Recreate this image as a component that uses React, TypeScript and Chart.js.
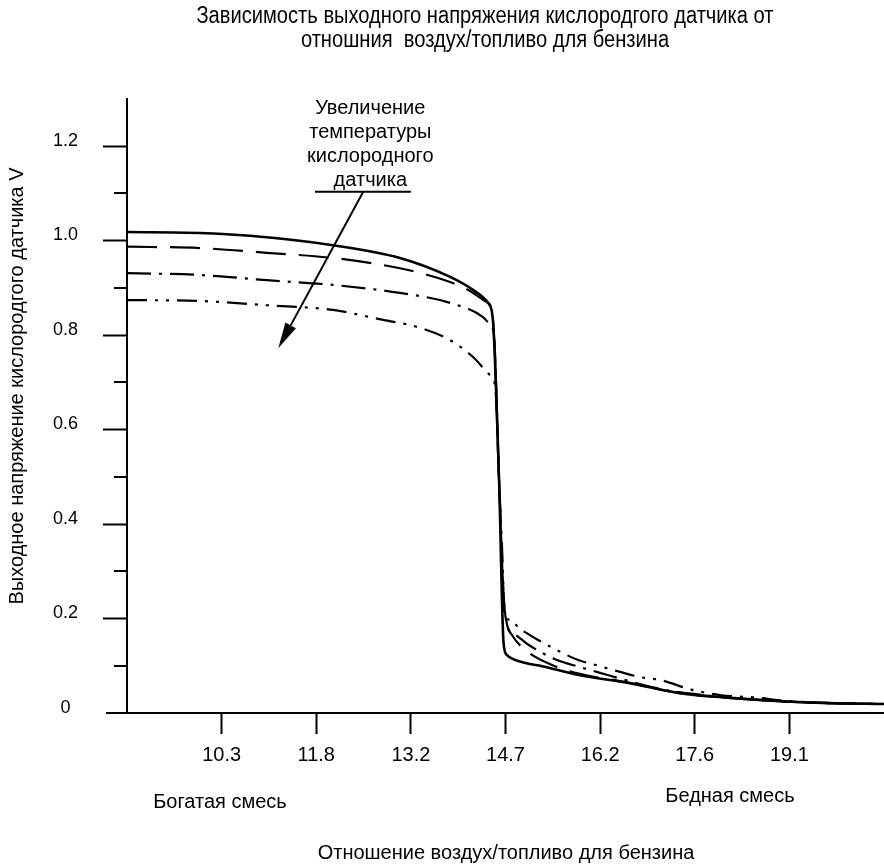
import React, { useEffect, useRef } from 'react';
import { Chart, registerables } from 'chart.js';

Chart.register(...registerables);

// ---- texts ----
const TITLE_LINES = [
  'Зависимость выходного напряжения кислородгого датчика от',
  'отношния  воздух/топливо для бензина',
];
const Y_TITLE = 'Выходное напряжение кислородгого датчика V';
const X_TITLE = 'Отношение воздух/топливо для бензина';
const RICH_LABEL = 'Богатая смесь';
const LEAN_LABEL = 'Бедная смесь';
const NOTE_LINES = ['Увеличение', 'температуры', 'кислородного', 'датчика'];

// ---- axes ----
const STOICH = 14.7;
const LAMBDA_MIN = 0.6;
const LAMBDA_MAX = 1.4;
const LAMBDA_TICKS = [0.7, 0.8, 0.9, 1.0, 1.1, 1.2, 1.3];
const Y_MIN = 0;
const Y_MAX = 1.3;
const Y_STEP = 0.1;

// ---- series (air/fuel ratio, volts) ----
const solidX = [8.82, 9.95, 10.73, 12.02, 13.06, 13.84, 14.2, 14.43, 14.5, 14.6, 14.67, 14.72, 14.82, 15.34, 15.86, 16.63, 17.41, 18.19, 18.96, 19.74, 20.58];
const solidY = [1.018, 1.016, 1.01, 0.99, 0.963, 0.923, 0.895, 0.868, 0.838, 0.493, 0.148, 0.123, 0.114, 0.097, 0.08, 0.063, 0.042, 0.032, 0.025, 0.021, 0.019];

const dashX = [8.82, 9.95, 10.99, 12.02, 12.8, 13.33, 13.84, 14.15, 14.38, 14.5, 14.6, 14.67, 14.72, 14.8, 15.05, 15.47, 15.7, 16.01, 16.37, 16.63, 17.41, 18.19, 18.96, 19.74, 20.58];
const dashY = [0.987, 0.984, 0.974, 0.963, 0.948, 0.933, 0.912, 0.893, 0.872, 0.838, 0.493, 0.25, 0.19, 0.165, 0.129, 0.099, 0.088, 0.078, 0.07, 0.064, 0.042, 0.032, 0.025, 0.021, 0.019];

const dashDotX = [8.82, 9.95, 10.99, 12.02, 13.06, 13.84, 14.35, 14.46, 14.52, 14.6, 14.67, 14.74, 14.82, 15.05, 15.47, 15.86, 16.17, 16.53, 16.94, 17.36, 17.72, 18.19, 18.96, 19.74, 20.58];
const dashDotY = [0.931, 0.927, 0.916, 0.906, 0.889, 0.868, 0.838, 0.822, 0.8, 0.493, 0.25, 0.18, 0.169, 0.145, 0.114, 0.097, 0.085, 0.071, 0.056, 0.045, 0.039, 0.032, 0.025, 0.021, 0.019];

const dashDotDotX = [8.82, 9.95, 10.99, 12.02, 12.8, 13.33, 13.84, 14.2, 14.46, 14.54, 14.6, 14.66, 14.68, 14.8, 14.89, 15.03, 15.2, 15.5, 15.83, 16.09, 16.48, 16.79, 17.1, 17.6, 18.03, 18.65, 18.96, 19.74, 20.58];
const dashDotDotY = [0.874, 0.872, 0.863, 0.853, 0.832, 0.817, 0.789, 0.753, 0.715, 0.69, 0.493, 0.3, 0.203, 0.197, 0.182, 0.169, 0.155, 0.133, 0.112, 0.102, 0.087, 0.076, 0.07, 0.049, 0.038, 0.032, 0.027, 0.021, 0.019];

// ---- annotation anchor (data coordinates) ----
const NOTE_CENTER_X = 12.6;
const NOTE_LINE_Y = [1.279, 1.228, 1.177, 1.126];
const NOTE_RULE_X = [11.74, 13.23];
const NOTE_RULE_Y = 1.103;
const ARROW_FROM = [12.49, 1.103];
const ARROW_TO = [11.17, 0.772];

const REGULAR = '"Liberation Sans", Arial, sans-serif';

const toPoints = (xs: number[], ys: number[]) => xs.map((x, i) => ({ x, y: ys[i] }));

const decorPlugin = {
  id: 'decor',
  afterDraw(chart: any) {
    const { ctx, chartArea } = chart;
    const x = chart.scales.x;
    const y = chart.scales.y;
    ctx.save();
    ctx.fillStyle = '#000';
    ctx.strokeStyle = '#000';
    ctx.lineCap = 'butt';

    // minor y ticks
    ctx.lineWidth = 2;
    ctx.beginPath();
    for (let k = 1; k <= 11; k += 2) {
      const py = Math.round(y.getPixelForValue(k / 10));
      ctx.moveTo(chartArea.left - 13, py);
      ctx.lineTo(chartArea.left, py);
    }
    // x-axis extension to the left
    const p0 = Math.round(y.getPixelForValue(0));
    ctx.moveTo(chartArea.left - 21, p0);
    ctx.lineTo(chartArea.left, p0);
    ctx.stroke();

    ctx.textAlign = 'center';
    ctx.textBaseline = 'middle';

    // title (condensed look)
    ctx.save();
    ctx.font = `23px ${REGULAR}`;
    ctx.translate(485, 0);
    ctx.scale(0.875, 1);
    ctx.fillText(TITLE_LINES[0], 0, 17);
    ctx.fillText(TITLE_LINES[1], 0, 41);
    ctx.restore();

    ctx.font = `20px ${REGULAR}`;
    ctx.fillText(X_TITLE, 506, 853);
    ctx.fillText(RICH_LABEL, 220, 802);
    ctx.fillText(LEAN_LABEL, 730, 796);

    ctx.save();
    ctx.translate(17, 386);
    ctx.rotate(-Math.PI / 2);
    ctx.fillText(Y_TITLE, 0, 0);
    ctx.restore();

    // annotation
    const cx = x.getPixelForValue(NOTE_CENTER_X);
    NOTE_LINES.forEach((t, i) => ctx.fillText(t, cx, y.getPixelForValue(NOTE_LINE_Y[i])));
    const ry = y.getPixelForValue(NOTE_RULE_Y);
    ctx.lineWidth = 2;
    ctx.beginPath();
    ctx.moveTo(x.getPixelForValue(NOTE_RULE_X[0]), ry);
    ctx.lineTo(x.getPixelForValue(NOTE_RULE_X[1]), ry);
    ctx.stroke();

    const ax0 = x.getPixelForValue(ARROW_FROM[0]);
    const ay0 = y.getPixelForValue(ARROW_FROM[1]);
    const ax1 = x.getPixelForValue(ARROW_TO[0]);
    const ay1 = y.getPixelForValue(ARROW_TO[1]);
    const ang = Math.atan2(ay1 - ay0, ax1 - ax0);
    const headLen = 26;
    const headHalf = 6;
    const bx = ax1 - headLen * Math.cos(ang);
    const by = ay1 - headLen * Math.sin(ang);
    ctx.beginPath();
    ctx.moveTo(ax0, ay0);
    ctx.lineTo(bx, by);
    ctx.stroke();
    ctx.beginPath();
    ctx.moveTo(ax1, ay1);
    ctx.lineTo(bx + headHalf * Math.sin(ang), by - headHalf * Math.cos(ang));
    ctx.lineTo(bx - headHalf * Math.sin(ang), by + headHalf * Math.cos(ang));
    ctx.closePath();
    ctx.fill();

    ctx.restore();
  },
};

export default function App() {
  const canvasRef = useRef<HTMLCanvasElement | null>(null);

  useEffect(() => {
    const canvas = canvasRef.current;
    if (!canvas) return;
    const common = {
      borderColor: '#000',
      backgroundColor: '#000',
      pointRadius: 0,
      fill: false,
      cubicInterpolationMode: 'monotone' as const,
    };
    const chart = new Chart(canvas, {
      type: 'line',
      data: {
        datasets: [
          { ...common, label: 'solid', data: toPoints(solidX, solidY), borderWidth: 2.6 },
          { ...common, label: 'dash', data: toPoints(dashX, dashY), borderWidth: 2.2, borderDash: [30, 13] },
          { ...common, label: 'dashdot', data: toPoints(dashDotX, dashDotY), borderWidth: 2.2, borderDash: [24, 8, 3, 8] },
          { ...common, label: 'dashdotdot', data: toPoints(dashDotDotX, dashDotDotY), borderWidth: 2.2, borderDash: [20, 8, 3, 8, 3, 8] },
        ],
      },
      options: {
        responsive: false,
        animation: false,
        events: [],
        layout: { padding: { left: 0, right: 0, top: 98.75, bottom: 0 } },
        plugins: {
          legend: { display: false },
          title: { display: false },
          tooltip: { enabled: false },
        },
        scales: {
          x: {
            type: 'linear',
            min: STOICH * LAMBDA_MIN,
            max: STOICH * LAMBDA_MAX,
            afterBuildTicks: (s: any) => {
              s.ticks = LAMBDA_TICKS.map((l) => ({ value: STOICH * l }));
            },
            afterFit: (s: any) => {
              s.height = 153;
            },
            grid: {
              display: true,
              drawOnChartArea: false,
              drawTicks: true,
              tickLength: 21,
              tickWidth: 2,
              tickColor: '#000',
              color: '#000',
            },
            border: { display: true, color: '#000', width: 2 },
            ticks: {
              autoSkip: false,
              maxRotation: 0,
              color: '#000',
              padding: 9,
              font: { family: REGULAR, size: 20 },
              callback: (v: any) => Number(v).toFixed(1),
            },
          },
          y: {
            type: 'linear',
            min: Y_MIN,
            max: Y_MAX,
            afterFit: (s: any) => {
              s.width = 127;
            },
            grid: {
              display: true,
              drawOnChartArea: false,
              drawTicks: true,
              tickLength: 24,
              tickWidth: 2,
              color: '#000',
              tickColor: (c: any) => {
                const k = Math.round(c.tick.value * 10);
                return k % 2 === 0 && k > 0 ? '#000' : 'rgba(0,0,0,0)';
              },
            },
            border: { display: true, color: '#000', width: 2 },
            ticks: {
              stepSize: Y_STEP,
              autoSkip: false,
              color: '#000',
              crossAlign: 'center',
              padding: 25,
              labelOffset: -5,
              font: { family: REGULAR, size: 18 },
              callback: (v: any) => {
                const k = Math.round(Number(v) * 10);
                if (k % 2 !== 0) return '';
                return k === 0 ? '0' : (k / 10).toFixed(1);
              },
            },
          },
        },
      },
      plugins: [decorPlugin],
    } as any);
    return () => chart.destroy();
  }, []);

  return (
    <div style={{ position: 'absolute', left: 0, top: 0, width: 884, height: 866, background: '#fff' }}>
      <canvas ref={canvasRef} width={884} height={866} style={{ display: 'block' }} />
    </div>
  );
}
